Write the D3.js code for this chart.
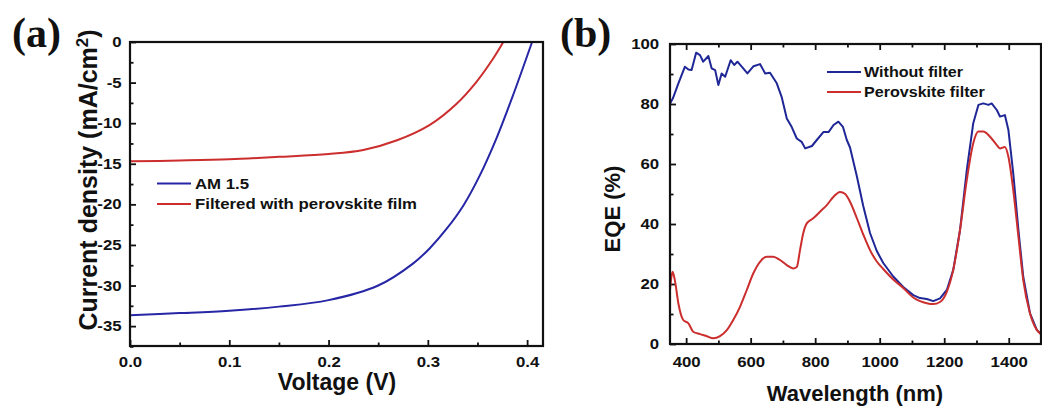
<!DOCTYPE html>
<html><head><meta charset="utf-8">
<script src="https://cdn.jsdelivr.net/npm/d3@7/dist/d3.min.js"></script>
<style>
body{margin:0;background:#fff}
svg text{font-family:"Liberation Sans",Arial,sans-serif;font-weight:bold;fill:#111}
</style>
</head><body>
<svg id="chart" width="1042" height="408"></svg>
<script>
// ---------- Panel (a): J-V curves ----------
const voltageAM = [0, 0.05, 0.10, 0.15, 0.20, 0.25, 0.285, 0.302, 0.319, 0.336, 0.3525, 0.369, 0.386, 0.405];
const currentAM = [-33.65, -33.4, -33.1, -32.6, -31.8, -30.0, -27.3, -25.4, -23.0, -20.1, -16.4, -11.9, -6.5, 0];
const voltageFiltered = [0, 0.05, 0.10, 0.15, 0.20, 0.235, 0.269, 0.302, 0.329, 0.349, 0.366, 0.376];
const currentFiltered = [-14.7, -14.6, -14.45, -14.15, -13.8, -13.3, -12.1, -10.2, -7.6, -4.9, -2.0, 0];
const jvLegend = ["AM 1.5", "Filtered with perovskite film"];
const voltageTicks = [0, 0.1, 0.2, 0.3, 0.4];
const currentTicks = [-35, -30, -25, -20, -15, -10, -5, 0];

// ---------- Panel (b): EQE spectra ----------
const wlWithout = [350, 353, 359, 376, 396, 407, 417, 431, 443, 453, 469, 479, 490, 500, 510, 521, 538, 549, 559, 573, 590, 609, 629, 645, 660, 681, 696, 712, 727, 743, 758, 769, 790, 805, 826, 842, 857, 872, 886, 898, 908, 929, 949, 970, 991, 1011, 1042, 1073, 1104, 1125, 1146, 1166, 1187, 1208, 1228, 1249, 1270, 1290, 1306, 1321, 1337, 1347, 1363, 1373, 1388, 1399, 1414, 1430, 1445, 1466, 1487, 1500];
const eqeWithout = [80.0, 80.7, 81.9, 86.9, 92.4, 91.5, 91.3, 97.1, 96.3, 94.1, 96.0, 91.9, 91.3, 86.3, 90.2, 89.1, 94.6, 93.0, 94.1, 92.4, 90.2, 92.6, 93.3, 90.2, 90.4, 86.9, 82.4, 75.2, 72.4, 68.5, 67.4, 65.2, 66.0, 68.0, 70.7, 70.7, 73.0, 74.1, 72.4, 68.0, 65.5, 56.0, 46.0, 37.0, 31.0, 27.0, 22.5, 19.0, 16.3, 15.3, 15.0, 14.3, 15.2, 18.0, 24.7, 38.0, 58.0, 73.6, 79.7, 80.2, 79.7, 80.2, 78.0, 75.8, 76.3, 71.3, 56.9, 38.0, 22.4, 10.2, 4.7, 3.3];
const wlFilter = [350, 353, 358, 365, 376, 391, 407, 422, 443, 464, 484, 505, 526, 546, 567, 588, 608, 629, 650, 670, 691, 712, 732, 743, 753, 763, 774, 794, 815, 836, 857, 877, 893, 908, 929, 949, 970, 991, 1011, 1042, 1073, 1104, 1125, 1146, 1166, 1187, 1208, 1228, 1249, 1270, 1290, 1306, 1321, 1342, 1363, 1373, 1388, 1399, 1414, 1430, 1445, 1466, 1487, 1500];
const eqeFilter = [18.0, 21.3, 24.1, 21.3, 13.5, 8.0, 6.9, 4.1, 3.3, 2.6, 1.9, 2.6, 4.6, 8.0, 12.4, 18.0, 23.5, 27.4, 29.1, 29.1, 28.0, 26.3, 25.2, 25.7, 31.3, 36.9, 40.2, 41.9, 44.1, 46.3, 49.1, 50.7, 50.0, 47.4, 42.0, 36.5, 31.3, 27.5, 25.0, 21.5, 18.7, 15.5, 14.3, 13.6, 13.3, 14.0, 17.4, 24.7, 38.0, 54.7, 66.9, 70.8, 70.8, 69.1, 66.3, 65.2, 65.7, 62.4, 51.3, 35.8, 21.3, 10.2, 4.7, 3.3];
const eqeLegend = ["Without filter", "Perovskite filter"];
const wlTicks = [400, 600, 800, 1000, 1200, 1400];
const eqeTicks = [0, 20, 40, 60, 80, 100];

const BLUE_A = "#2626a6", RED_A = "#cc2e2e";
const BLUE_B = "#1f2796", RED_B = "#cc2e2e";

const svg = d3.select("#chart");
svg.append("rect").attr("width", 1042).attr("height", 408).attr("fill", "#fff");

function styleTicks(g, sx) {
  g.select(".domain").remove();
  g.selectAll(".tick line").attr("stroke", "#111").attr("stroke-width", 1.8);
  g.selectAll(".tick text").style("font-size", "14px").attr("fill", "#111")
    .attr("transform", `scale(${sx},1)`);
}

// ===== Panel A =====
const A = {l: 130, r: 543, t: 42, b: 346};
const xA = d3.scaleLinear().domain([0, 0.416]).range([A.l, A.r]);
const yA = d3.scaleLinear().domain([-37.45, 0]).range([A.b, A.t]);

const gA = svg.append("g");
gA.append("g").attr("transform", `translate(0,${A.b})`)
  .call(d3.axisBottom(xA).tickValues([0.05, 0.15, 0.25, 0.35]).tickSize(-3.5).tickFormat(""))
  .call(g => styleTicks(g, 1));
gA.append("g").attr("transform", `translate(0,${A.b})`)
  .call(d3.axisBottom(xA).tickValues(voltageTicks).tickSize(-6).tickPadding(11).tickFormat(d3.format(".1f")))
  .call(g => styleTicks(g, 1.2));
gA.append("g").attr("transform", `translate(${A.l},0)`)
  .call(d3.axisLeft(yA).tickValues(d3.range(-37.5, 0, 5)).tickSize(-3.5).tickFormat(""))
  .call(g => styleTicks(g, 1));
gA.append("g").attr("transform", `translate(${A.l},0)`)
  .call(d3.axisLeft(yA).tickValues(currentTicks).tickSize(-6).tickPadding(7).tickFormat(d => String(d)))
  .call(g => styleTicks(g, 1.2));

const lineA = d3.line().x(d => xA(d[0])).y(d => yA(d[1])).curve(d3.curveCatmullRom.alpha(0.5));
gA.append("path").datum(voltageAM.map((v, i) => [v, currentAM[i]]))
  .attr("d", lineA).attr("fill", "none").attr("stroke", BLUE_A).attr("stroke-width", 2);
gA.append("path").datum(voltageFiltered.map((v, i) => [v, currentFiltered[i]]))
  .attr("d", lineA).attr("fill", "none").attr("stroke", RED_A).attr("stroke-width", 2);

gA.append("rect").attr("x", A.l).attr("y", A.t).attr("width", A.r - A.l).attr("height", A.b - A.t)
  .attr("fill", "none").attr("stroke", "#111").attr("stroke-width", 2.2);

// legend A
[[BLUE_A, 183.5], [RED_A, 204]].forEach(([c, y], i) => {
  gA.append("line").attr("x1", 157).attr("x2", 191).attr("y1", y).attr("y2", y)
    .attr("stroke", c).attr("stroke-width", 2);
  gA.append("text").attr("transform", `translate(195,${y + 5}) scale(1.2,1)`)
    .style("font-size", "14px").text(jvLegend[i]);
});

// titles A
gA.append("text").attr("x", 337).attr("y", 390).attr("text-anchor", "middle")
  .style("font-size", "23px").text("Voltage (V)");
const ytA = gA.append("text").attr("transform", "translate(97,180) rotate(-90)")
  .attr("text-anchor", "middle").style("font-size", "25px");
ytA.append("tspan").text("Current density (mA/cm");
ytA.append("tspan").attr("dy", -9).style("font-size", "17px").text("2");
ytA.append("tspan").attr("dy", 9).text(")");

svg.append("text").attr("x", 12).attr("y", 47)
  .style("font-family", "'Liberation Serif','Times New Roman',serif").style("font-size", "42px")
  .text("(a)");

// ===== Panel B =====
const B = {l: 670, r: 1041, t: 44, b: 344};
const xB = d3.scaleLinear().domain([350, 1500]).range([B.l, B.r]);
const yB = d3.scaleLinear().domain([0, 100]).range([B.b, B.t]);

const gB = svg.append("g");
const minorWl = [500, 700, 900, 1100, 1300];
gB.append("g").attr("transform", `translate(0,${B.b})`)
  .call(d3.axisBottom(xB).tickValues(minorWl).tickSize(-3.5).tickFormat(""))
  .call(g => styleTicks(g, 1));
gB.append("g").attr("transform", `translate(0,${B.b})`)
  .call(d3.axisBottom(xB).tickValues(wlTicks).tickSize(-6).tickPadding(13).tickFormat(d => String(d)))
  .call(g => styleTicks(g, 1.2));
gB.append("g").attr("transform", `translate(0,${B.t})`)
  .call(d3.axisTop(xB).tickValues(minorWl).tickSize(-3.5).tickFormat(""))
  .call(g => styleTicks(g, 1));
gB.append("g").attr("transform", `translate(0,${B.t})`)
  .call(d3.axisTop(xB).tickValues(wlTicks).tickSize(-6).tickFormat(""))
  .call(g => styleTicks(g, 1));
gB.append("g").attr("transform", `translate(${B.l},0)`)
  .call(d3.axisLeft(yB).tickValues(d3.range(10, 100, 20)).tickSize(-3.5).tickFormat(""))
  .call(g => styleTicks(g, 1));
gB.append("g").attr("transform", `translate(${B.l},0)`)
  .call(d3.axisLeft(yB).tickValues(eqeTicks).tickSize(-6).tickPadding(9).tickFormat(d => String(d)))
  .call(g => styleTicks(g, 1.2));

svg.append("clipPath").attr("id", "clipB").append("rect")
  .attr("x", B.l).attr("y", B.t).attr("width", B.r - B.l).attr("height", B.b - B.t);
const lineBlue = d3.line().x(d => xB(d[0])).y(d => yB(d[1])).curve(d3.curveLinear);
const lineRed = d3.line().x(d => xB(d[0])).y(d => yB(d[1])).curve(d3.curveMonotoneX);
const plotB = gB.append("g").attr("clip-path", "url(#clipB)");
plotB.append("path").datum(wlWithout.map((w, i) => [w, eqeWithout[i]]))
  .attr("d", lineBlue).attr("fill", "none").attr("stroke", BLUE_B).attr("stroke-width", 2)
  .attr("stroke-linejoin", "round");
plotB.append("path").datum(wlFilter.map((w, i) => [w, eqeFilter[i]]))
  .attr("d", lineRed).attr("fill", "none").attr("stroke", RED_B).attr("stroke-width", 2);

gB.append("rect").attr("x", B.l).attr("y", B.t).attr("width", B.r - B.l).attr("height", B.b - B.t)
  .attr("fill", "none").attr("stroke", "#111").attr("stroke-width", 2.2);

[[BLUE_B, 72], [RED_B, 92]].forEach(([c, y], i) => {
  gB.append("line").attr("x1", 827).attr("x2", 861).attr("y1", y).attr("y2", y)
    .attr("stroke", c).attr("stroke-width", 2);
  gB.append("text").attr("transform", `translate(864,${y + 5}) scale(1.15,1)`)
    .style("font-size", "14px").text(eqeLegend[i]);
});

gB.append("text").attr("x", 855).attr("y", 401).attr("text-anchor", "middle")
  .style("font-size", "22px").text("Wavelength (nm)");
gB.append("text").attr("transform", "translate(620,209) rotate(-90)")
  .attr("text-anchor", "middle").style("font-size", "22px").text("EQE (%)");

svg.append("text").attr("x", 560).attr("y", 47)
  .style("font-family", "'Liberation Serif','Times New Roman',serif").style("font-size", "42px")
  .text("(b)");
</script>
</body></html>
